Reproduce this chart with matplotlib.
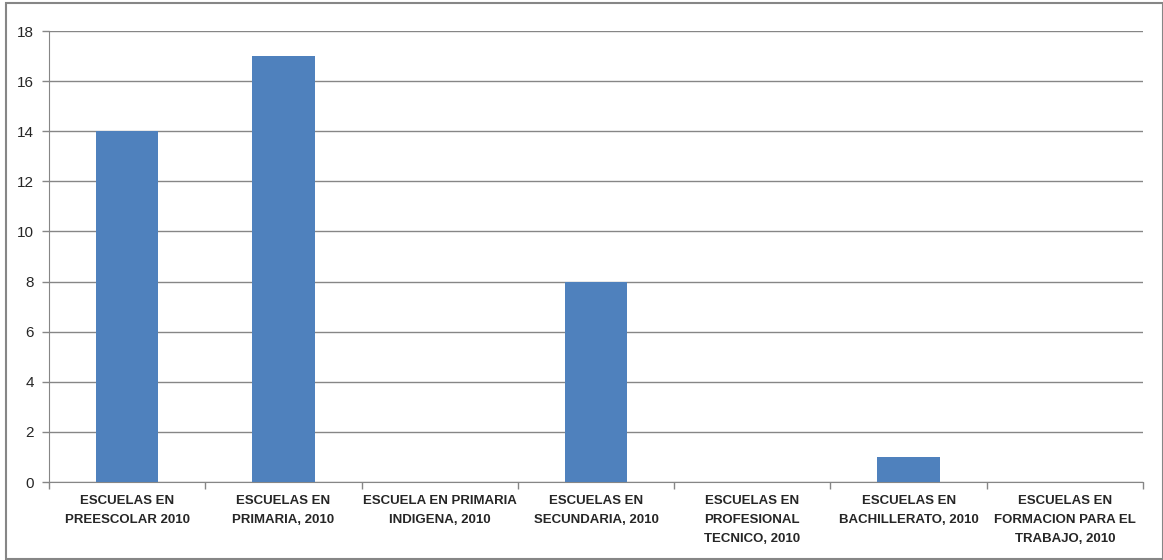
import matplotlib
matplotlib.use("Agg")
import matplotlib.pyplot as plt
from matplotlib import font_manager
from matplotlib.patches import Rectangle

categories = [
    "ESCUELAS EN\nPREESCOLAR 2010",
    "ESCUELAS EN\nPRIMARIA, 2010",
    "ESCUELA EN PRIMARIA\nINDIGENA, 2010",
    "ESCUELAS EN\nSECUNDARIA, 2010",
    "ESCUELAS EN\nPROFESIONAL\nTECNICO, 2010",
    "ESCUELAS EN\nBACHILLERATO, 2010",
    "ESCUELAS EN\nFORMACION PARA EL\nTRABAJO, 2010",
]
values = [14, 17, 0, 8, 0, 1, 0]
yticks = [0, 2, 4, 6, 8, 10, 12, 14, 16, 18]

names = {f.name for f in font_manager.fontManager.ttflist}
fam = "Liberation Sans Narrow" if "Liberation Sans Narrow" in names else "Liberation Sans"
plt.rcParams['font.family'] = [fam, 'DejaVu Sans']

W, H = 1163, 560
fig = plt.figure(figsize=(W/100, H/100), dpi=100)
fig.patches.append(Rectangle((6/W, 1/H), (W-6)/W, (H-4)/H, transform=fig.transFigure,
                             fill=False, edgecolor='#868686', linewidth=1.5))
ax = fig.add_axes([49/W, 1-482/H, (1143-49)/W, (482-31)/H])

x = list(range(len(categories)))
ax.bar(x, values, width=0.4, color='#4F81BD', zorder=3)
ax.set_xlim(-0.5, len(categories)-0.5)
ax.set_ylim(0, 18)
ax.set_yticks(yticks)
ax.set_yticklabels([str(v) for v in yticks], fontsize=11)
ax.yaxis.grid(True, color='#868686', linewidth=1, zorder=0)
ax.set_xticks(x)
ax.set_xticklabels(categories, fontsize=9.5, fontweight='bold', color='#262626', linespacing=1.78)
ax.tick_params(axis='x', length=0, pad=9)
ax.set_xticks([i - 0.5 for i in range(len(categories)+1)], minor=True)
ax.tick_params(axis='x', which='minor', length=5, color='#868686', width=1)
ax.tick_params(axis='y', length=5, color='#868686', width=1, labelcolor='#262626', pad=6)
for s in ['top', 'right']:
    ax.spines[s].set_visible(False)
ax.spines['left'].set_color('#868686')
ax.spines['bottom'].set_color('#868686')

fig.savefig("out.png", dpi=100)
